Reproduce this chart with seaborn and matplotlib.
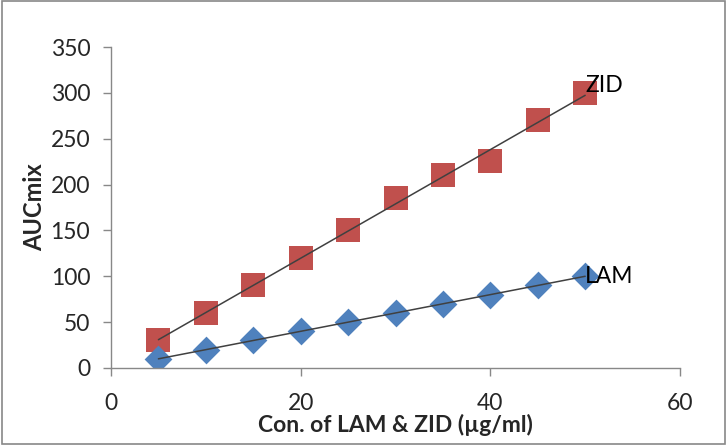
import matplotlib
matplotlib.use("Agg")
import matplotlib.pyplot as plt
import seaborn as sns
import numpy as np
import pandas as pd
from matplotlib.patches import Rectangle

conc = [5, 10, 15, 20, 25, 30, 35, 40, 45, 50]
zid = [30, 60, 90, 120, 150, 185, 210, 226, 270, 300]
lam = [10, 20, 30, 40, 50, 60, 70, 80, 90, 100]
x_ticks = [0, 20, 40, 60]
y_ticks = [0, 50, 100, 150, 200, 250, 300, 350]

sns.set_style("white")
plt.rcParams['font.family'] = ['Lato', 'DejaVu Sans']

fig = plt.figure(figsize=(7.27, 4.45), dpi=100)
ax = fig.add_axes([111/727, 1-368/445, (680-111)/727, (368-47)/445])

df = pd.DataFrame({"conc": conc, "ZID": zid, "LAM": lam})

sns.regplot(data=df, x="conc", y="ZID", scatter=False, ci=None, ax=ax,
            line_kws=dict(color="#404040", lw=1.1), truncate=True)
sns.regplot(data=df, x="conc", y="LAM", scatter=False, ci=None, ax=ax,
            line_kws=dict(color="#404040", lw=1.1), truncate=True)
sns.scatterplot(data=df, x="conc", y="ZID", marker="s", s=300, color="#C0504D",
                edgecolor="#C0504D", linewidth=0, ax=ax, zorder=1)
sns.scatterplot(data=df, x="conc", y="LAM", marker="D", s=200, color="#4F81BD",
                edgecolor="#4F81BD", linewidth=0, ax=ax, zorder=1)
for l in ax.lines:
    l.set_zorder(3)

ax.text(conc[-1], zid[-1] - 3, "ZID", fontsize=16.5, ha="left", va="bottom", color="black")
ax.text(conc[-1], lam[-1], "LAM", fontsize=16.5, ha="left", va="center", color="black")

ax.set_xlim(0, 60)
ax.set_ylim(0, 350)
ax.set_xticks(x_ticks)
ax.set_yticks(y_ticks)
ax.tick_params(axis="both", labelsize=16.5, length=6, width=1, color="#888888",
               direction="out", bottom=True, left=True)
ax.tick_params(axis="x", pad=12)
ax.tick_params(axis="y", pad=9)
ax.set_xlabel("Con. of LAM & ZID (µg/ml)", fontsize=16.5, fontweight="bold", labelpad=0)
ax.set_ylabel("AUCmix", fontsize=17, fontweight="bold", labelpad=3)
for s in ["top", "right"]:
    ax.spines[s].set_visible(False)
for s in ["left", "bottom"]:
    ax.spines[s].set_color("#888888")
    ax.spines[s].set_linewidth(1)

fig.patches.append(Rectangle((0.003, 0.003), 0.994, 0.994, transform=fig.transFigure,
                             fill=False, edgecolor="#888888", lw=1.2))
fig.savefig("out.png", dpi=100)
